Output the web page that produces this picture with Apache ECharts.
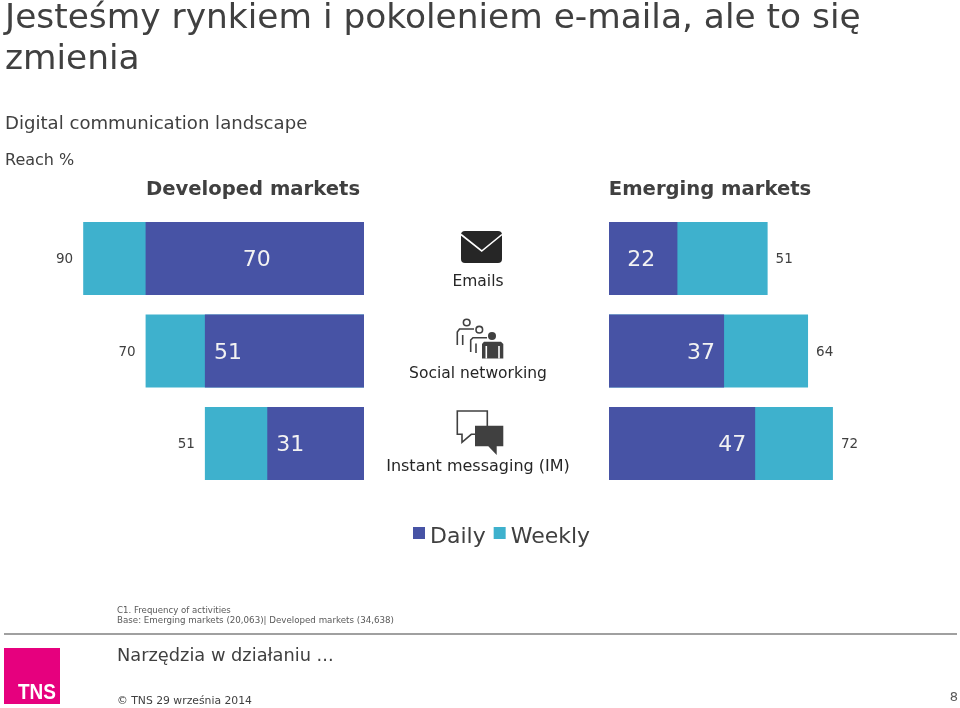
<!DOCTYPE html>
<html>
<head>
<meta charset="utf-8">
<style>
  html, body { margin: 0; padding: 0; background: #fff; }
  #main { width: 960px; height: 708px; }
</style>
<script src="https://cdn.jsdelivr.net/npm/echarts@6/dist/echarts.min.js"></script>
</head>
<body>
<div id="main"></div>
<script>
const categories = ['Emails', 'Social networking', 'Instant messaging (IM)'];
const developedDaily = [70, 51, 31];
const developedReach = [90, 70, 51];
const emergingDaily = [22, 37, 47];
const emergingReach = [51, 64, 72];

const FONT = '"DejaVu Sans", Verdana, sans-serif';
const DAILY = '#4753a5';
const WEEKLY = '#3eb1cd';
const INK = '#404040';
const DARK = '#262626';

function text(x, y, str, size, extra) {
  return {
    type: 'text', x: x, y: y, silent: true,
    style: Object.assign({
      text: str, fontFamily: FONT, fontSize: size, fill: INK, verticalAlign: 'middle'
    }, extra || {})
  };
}

function stroke(points, color) {
  return {
    type: 'polyline', silent: true, shape: { points: points },
    style: { stroke: color, fill: null, lineWidth: 1.6 }
  };
}

function ring(cx, cy, r, color) {
  return {
    type: 'circle', silent: true, shape: { cx: cx, cy: cy, r: r },
    style: { stroke: color, fill: '#fff', lineWidth: 1.6 }
  };
}

function solid(points, color) {
  return { type: 'polygon', silent: true, shape: { points: points }, style: { fill: color } };
}

// reach is drawn behind, daily on top at the same position
function makeSeries(daily, reach, axis, reachPos, reachGap, dailyLabel) {
  return [
    {
      name: 'Weekly', type: 'bar', xAxisIndex: axis, yAxisIndex: axis,
      data: reach, barWidth: 73, barGap: '-100%',
      itemStyle: { color: WEEKLY },
      label: { show: true, position: reachPos, distance: reachGap, offset: [0, 1], color: INK, fontFamily: FONT, fontSize: 13.5 }
    },
    {
      name: 'Daily', type: 'bar', xAxisIndex: axis, yAxisIndex: axis,
      data: daily.map((v, i) => ({ value: v, label: dailyLabel[i] })),
      barWidth: 73,
      itemStyle: { color: DAILY },
      label: { show: true, color: '#f2f2f2', fontFamily: FONT, fontSize: 22 }
    }
  ];
}

const myChart = echarts.init(document.getElementById('main'), null, { renderer: 'canvas' });

const option = {
  animation: false,
  backgroundColor: '#fff',
  grid: [
    { left: 52, width: 312, top: 212.25, height: 277.5 },
    { left: 609, width: 311, top: 212.25, height: 277.5 }
  ],
  xAxis: [
    { type: 'value', gridIndex: 0, min: 0, max: 100, inverse: true, show: false },
    { type: 'value', gridIndex: 1, min: 0, max: 100, show: false }
  ],
  yAxis: [
    { type: 'category', gridIndex: 0, data: categories, inverse: true, show: false },
    { type: 'category', gridIndex: 1, data: categories, inverse: true, show: false }
  ],
  legend: {
    left: 408, top: 521, itemWidth: 12, itemHeight: 12, itemGap: 8, selectedMode: false,
    icon: 'rect',
    data: ['Daily', 'Weekly'],
    formatter: '{t|{name}}',
    textStyle: {
      rich: { t: { fontFamily: FONT, fontSize: 22, color: INK, padding: [8, 0, 0, 0] } }
    }
  },
  series: [
    ...makeSeries(developedDaily, developedReach, 0, 'left', 10, [
      { position: 'inside', offset: [2, 2] },
      { position: 'insideLeft', distance: 9, offset: [0, 2] },
      { position: 'insideLeft', distance: 9, offset: [0, 2] }
    ]),
    ...makeSeries(emergingDaily, emergingReach, 1, 'right', 8, [
      { position: 'inside', offset: [-2, 2] },
      { position: 'insideRight', distance: 9, offset: [0, 2] },
      { position: 'insideRight', distance: 9, offset: [0, 2] }
    ])
  ],
  graphic: { elements: [
    text(5, 19.5, 'Jesteśmy rynkiem i pokoleniem e-maila, ale to się', 34.4),
    text(5, 60, 'zmienia', 34.4),
    text(5, 124, 'Digital communication landscape', 18.1),
    text(5, 161, 'Reach %', 16),
    text(253, 190, 'Developed markets', 19.6, { fontWeight: 'bold', align: 'center' }),
    text(710, 190, 'Emerging markets', 19.6, { fontWeight: 'bold', align: 'center' }),
    text(478, 282, categories[0], 15.5, { align: 'center', fill: DARK }),
    text(478, 374, categories[1], 15.5, { align: 'center', fill: DARK }),
    text(478, 467, categories[2], 16, { align: 'center', fill: DARK }),
    text(117, 611, 'C1. Frequency of activities', 8.6, { fill: '#595959' }),
    text(117, 620.5, 'Base: Emerging markets (20,063)| Developed markets (34,638)', 8.7, { fill: '#595959' }),
    text(117, 656, 'Narzędzia w działaniu ...', 17.8),
    text(117, 701, '© TNS 29 września 2014', 10.8),
    text(958, 698, '8', 13, { align: 'right', fill: '#595959' }),
    { type: 'line', silent: true, shape: { x1: 4, y1: 634, x2: 957, y2: 634 }, style: { stroke: '#808080', lineWidth: 1.5 } },
    { type: 'rect', silent: true, shape: { x: 4, y: 648, width: 56, height: 56 }, style: { fill: '#e6007e' } },
    Object.assign(text(37, 693, 'TNS', 19, { fontFamily: '"Liberation Sans", sans-serif', fontWeight: 'bold', fill: '#fff', align: 'center' }), { scaleY: 1.2 }),

    // envelope
    { type: 'rect', silent: true, shape: { x: 461, y: 231, width: 41, height: 32, r: 4 }, style: { fill: DARK } },
    stroke([[461, 234.5], [481.7, 251], [502, 234.5]], '#fff'),

    // people
    ring(466.7, 322.5, 3.3, INK),
    stroke([[457.3, 345], [457.3, 332], [459.5, 329], [474, 329]], INK),
    stroke([[462.7, 335], [462.7, 345]], INK),
    ring(479.3, 329.7, 3.3, INK),
    stroke([[470.7, 352], [470.7, 340], [473, 337.7], [487, 337.7]], INK),
    stroke([[476, 343.5], [476, 353]], INK),
    { type: 'circle', silent: true, shape: { cx: 492, cy: 336, r: 4 }, style: { fill: INK } },
    solid([[484, 341.7], [501, 341.7], [503.3, 344], [503.3, 358.5], [482, 358.5], [482, 344]], INK),
    stroke([[486.3, 346], [486.3, 358.5]], '#fff'),
    stroke([[499, 346], [499, 358.5]], '#fff'),

    // chat bubbles
    stroke([[475, 434.3], [471.3, 434.3], [462, 442.3], [462, 434.3], [457.3, 434.3], [457.3, 411], [487.3, 411], [487.3, 426]], INK),
    solid([[475, 425.7], [503.3, 425.7], [503.3, 446.3], [496.7, 446.3], [496.7, 455], [488.3, 446.3], [475, 446.3]], INK)
  ] }
};

myChart.setOption(option);
</script>
</body>
</html>
